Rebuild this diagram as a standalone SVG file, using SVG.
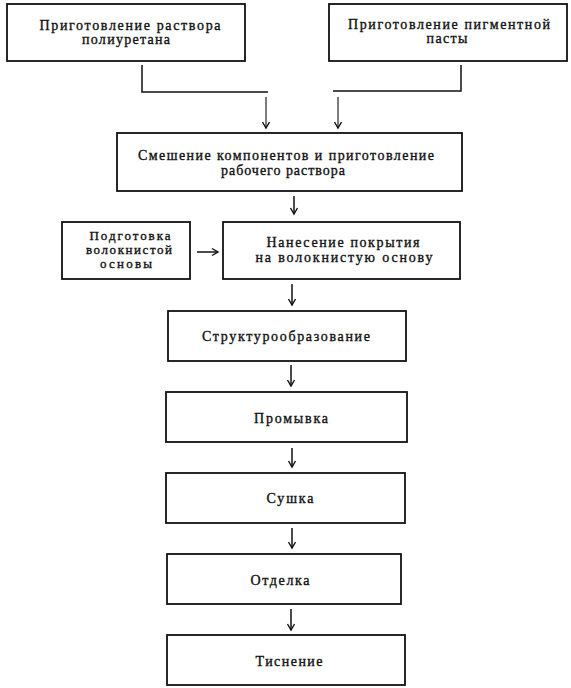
<svg xmlns="http://www.w3.org/2000/svg" width="571" height="688" viewBox="0 0 571 688">
<defs>
<marker id="ah" markerUnits="userSpaceOnUse" markerWidth="10" markerHeight="10" refX="7" refY="4" orient="auto" overflow="visible">
<path d="M1,0.5 L7,4 L1,7.5" fill="none" stroke="#111" stroke-width="1.4"/>
</marker>
</defs>
<style>
.box{fill:#fff;stroke:#111;stroke-width:1.8}
.t{font-family:"Liberation Serif","Times New Roman",serif;font-size:14px;fill:#111;stroke:#111;stroke-width:0.35;text-anchor:middle}
.s{font-size:13px}
.c{fill:none;stroke:#111;stroke-width:1.5}
.thin{fill:none;stroke:#111;stroke-width:1.1}
</style>
<rect width="571" height="688" fill="#fff"/>
<g id="n1"><rect class="box" x="7" y="4" width="238" height="57"/>
<text class="t" x="130" y="30" textLength="181" lengthAdjust="spacing">Приготовление раствора</text>
<text class="t" x="126" y="44" textLength="88" lengthAdjust="spacing">полиуретана</text></g>
<g id="n2"><rect class="box" x="329" y="4" width="238" height="57"/>
<text class="t" x="449" y="29" textLength="202" lengthAdjust="spacing">Приготовление пигментной</text>
<text class="t" x="447" y="43" textLength="41" lengthAdjust="spacing">пасты</text></g>
<g id="n3"><rect class="box" x="117" y="133" width="345" height="58"/>
<text class="t" x="286" y="160" textLength="296" lengthAdjust="spacing">Смешение компонентов и приготовление</text>
<text class="t" x="283" y="175" textLength="124" lengthAdjust="spacing">рабочего раствора</text></g>
<g id="n4"><rect class="box" x="62" y="222" width="128" height="57"/>
<text class="t s" x="130" y="240" textLength="81" lengthAdjust="spacing">Подготовка</text>
<text class="t s" x="129" y="254" textLength="86" lengthAdjust="spacing">волокнистой</text>
<text class="t s" x="126" y="268" textLength="52" lengthAdjust="spacing">основы</text></g>
<g id="n5"><rect class="box" x="223" y="222" width="237" height="57"/>
<text class="t" x="343" y="247" textLength="153" lengthAdjust="spacing">Нанесение покрытия</text>
<text class="t" x="344" y="262" textLength="177" lengthAdjust="spacing">на волокнистую основу</text></g>
<g id="n6"><rect class="box" x="168" y="311" width="238" height="50"/>
<text class="t" x="286" y="341" textLength="168" lengthAdjust="spacing">Структурообразование</text></g>
<g id="n7"><rect class="box" x="166" y="392" width="241" height="50"/>
<text class="t" x="291" y="423" textLength="74" lengthAdjust="spacing">Промывка</text></g>
<g id="n8"><rect class="box" x="166" y="473" width="239" height="50"/>
<text class="t" x="290" y="503" textLength="47" lengthAdjust="spacing">Сушка</text></g>
<g id="n9"><rect class="box" x="167" y="554" width="234" height="50"/>
<text class="t" x="280" y="585" textLength="59" lengthAdjust="spacing">Отделка</text></g>
<g id="n10"><rect class="box" x="167" y="635" width="238" height="50"/>
<text class="t" x="289" y="666" textLength="67" lengthAdjust="spacing">Тиснение</text></g>
<g id="connectors">
<polyline class="c" points="142,65 142,92 268,92"/>
<line class="thin" x1="266" y1="97" x2="266" y2="128" marker-end="url(#ah)"/>
<polyline class="c" points="461,65 461,91 333,91"/>
<line class="thin" x1="338" y1="97" x2="338" y2="128" marker-end="url(#ah)"/>
<line class="c" x1="294" y1="196" x2="294" y2="214" marker-end="url(#ah)"/>
<line class="c" x1="197" y1="252" x2="218" y2="252" marker-end="url(#ah)"/>
<line class="c" x1="292" y1="284" x2="292" y2="305" marker-end="url(#ah)"/>
<line class="c" x1="291" y1="365" x2="291" y2="386" marker-end="url(#ah)"/>
<line class="c" x1="292" y1="448" x2="292" y2="467" marker-end="url(#ah)"/>
<line class="c" x1="292" y1="528" x2="292" y2="548" marker-end="url(#ah)"/>
<line class="c" x1="291" y1="609" x2="291" y2="630" marker-end="url(#ah)"/>
</g>
</svg>
